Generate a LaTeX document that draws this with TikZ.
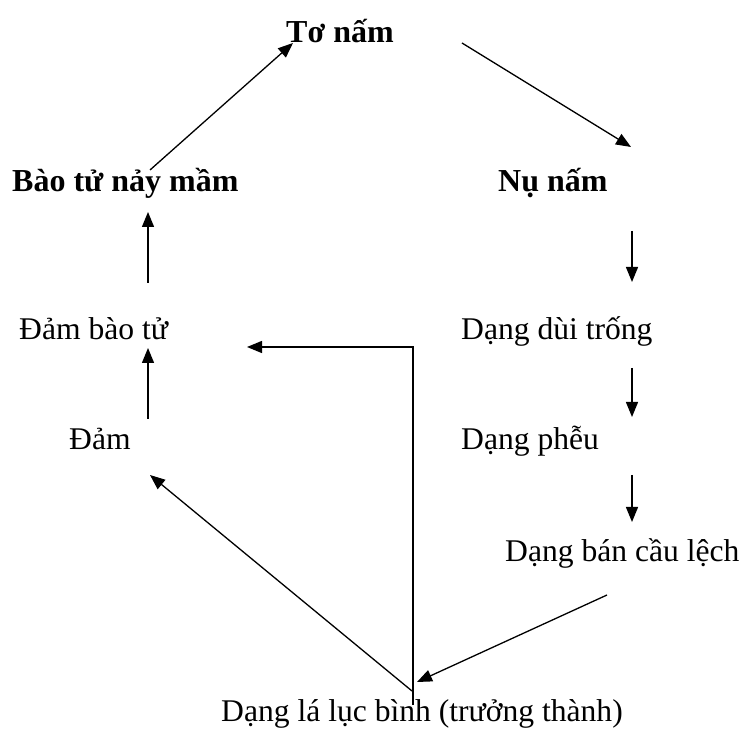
\documentclass[tikz,border=0pt]{standalone}
\usepackage{fontspec}
\setmainfont{Liberation Serif}
\usetikzlibrary{arrows.meta}
\begin{document}
\begin{tikzpicture}[x=1pt,y=1pt,
  lbl/.style={anchor=base west,inner sep=0pt,font=\fontsize{31.6}{38}\selectfont},
  blbl/.style={lbl,font=\fontsize{32}{38}\selectfont\bfseries},
  conn/.style={line width=1.3pt,-{Triangle[length=15pt,width=12pt]}}]
\useasboundingbox (0,0) rectangle (742,731);
% stages of the cycle
\node[blbl] (to)   at (286,688) {Tơ nấm};
\node[blbl] (nu)   at (498,539) {Nụ nấm};
\node[blbl] (bt)   at (12,539)  {Bào tử nảy mầm};
\node[lbl]  (dbt)  at (19,391)  {Đảm bào tử};
\node[lbl]  (dam)  at (69,281)  {Đảm};
\node[lbl]  (dui)  at (461,391) {Dạng dùi trống};
\node[lbl]  (pheu) at (461,281) {Dạng phễu};
\node[lbl]  (ban)  at (505,169) {Dạng bán cầu lệch};
\node[lbl]  (la)   at (221,9)   {Dạng lá lục bình (trưởng thành)};
% connector end points
\coordinate (btS) at (150,561);
\coordinate (toE) at (293,688);
\coordinate (toS) at (462,688);
\coordinate (nuE) at (631,584);
\coordinate (nuS) at (632,500);
\coordinate (duiE) at (632,449);
\coordinate (duiS) at (632,363);
\coordinate (pheuE) at (632,314);
\coordinate (pheuS) at (632,256);
\coordinate (banE) at (632,209);
\coordinate (banS) at (607,136);
\coordinate (laE) at (417,49);
\coordinate (laS) at (412,40);
\coordinate (laT) at (413,26);
\coordinate (damE) at (150,256);
\coordinate (corner) at (413,384);
\coordinate (dbtE) at (247,384);
\coordinate (damS) at (148,312);
\coordinate (dbtN) at (148,383);
\coordinate (dbtS) at (148,448);
\coordinate (btE) at (148,519);
% cycle arrows
\draw[conn] (btS) -- (toE);
\draw[conn] (toS) -- (nuE);
\draw[conn] (nuS) -- (duiE);
\draw[conn] (duiS) -- (pheuE);
\draw[conn] (pheuS) -- (banE);
\draw[conn] (banS) -- (laE);
\draw[conn] (laS) -- (damE);
\draw[conn] (laT) -- (corner) -- (dbtE);
\draw[conn] (damS) -- (dbtN);
\draw[conn] (dbtS) -- (btE);
\end{tikzpicture}
\end{document}
